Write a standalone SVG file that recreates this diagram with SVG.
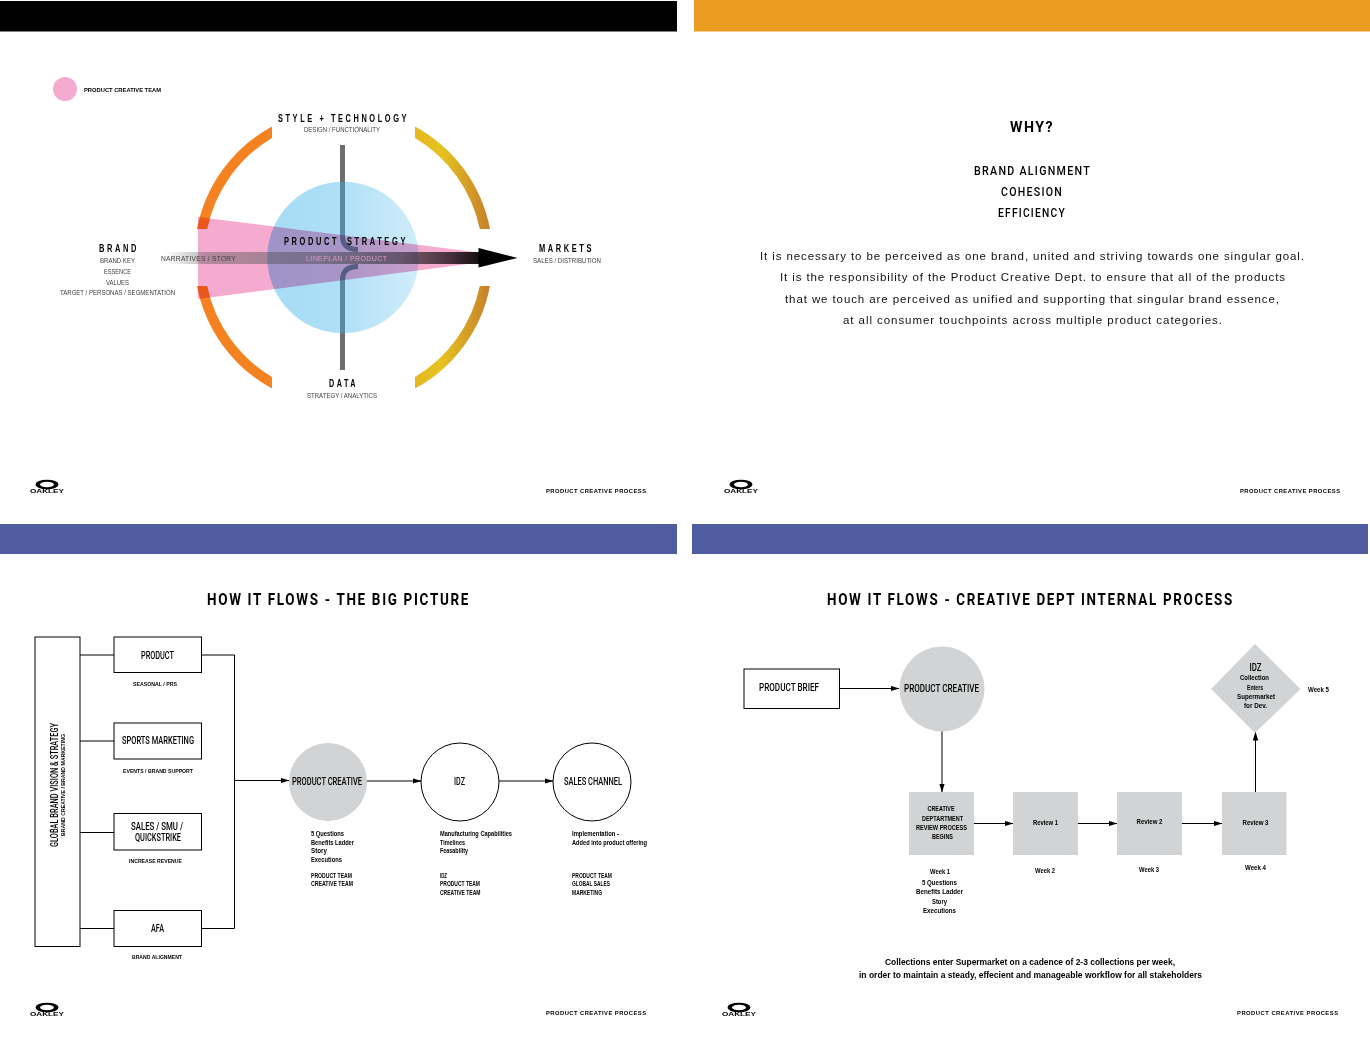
<svg xmlns="http://www.w3.org/2000/svg" width="1370" height="1047" viewBox="0 0 1370 1047">
<style>
text{font-family:"Liberation Sans",Arial,sans-serif;fill:#000}
.hd{font-weight:700;font-size:10px;letter-spacing:3.5px}
.sub{font-size:7px;fill:#414042}
.tiny{font-weight:700;font-size:5.8px}
.small{font-size:6.6px;font-weight:700}
.box{font-family:Roboto,"Liberation Sans",sans-serif;font-weight:500;font-size:10px}
.body{font-size:11.500px;fill:#111}
.caps{font-family:Roboto,"Liberation Sans",sans-serif;font-weight:500;font-size:12.500px;letter-spacing:1.500px}
.title{font-family:Roboto,"Liberation Sans",sans-serif;font-weight:700;font-size:16px;letter-spacing:2px}
.foot{font-weight:700;font-size:5.8px}
.m{text-anchor:middle}
.bx{fill:#fff;stroke:#000;stroke-width:1}
.gr{fill:#d1d3d4}
.ln{fill:none;stroke:#000;stroke-width:1}
.vbar{fill:none;stroke:#6d6e71;stroke-width:5}
.logo{font-weight:700;font-size:5.4px}
</style>
<defs>
<linearGradient id="blue" gradientUnits="userSpaceOnUse" x1="267" y1="0" x2="419" y2="0"><stop offset="0" stop-color="#3eb2e9" stop-opacity=".46"/><stop offset=".45" stop-color="#3eb2e9" stop-opacity=".42"/><stop offset="1" stop-color="#3eb2e9" stop-opacity=".24"/></linearGradient>
<linearGradient id="band" gradientUnits="userSpaceOnUse" x1="165" y1="0" x2="480" y2="0"><stop offset="0" stop-color="#58595b" stop-opacity="0"/><stop offset=".13" stop-color="#58595b" stop-opacity=".42"/><stop offset=".5" stop-color="#4a4a50" stop-opacity=".5"/><stop offset=".75" stop-color="#1a1a20" stop-opacity=".55"/><stop offset=".905" stop-color="#0a0508" stop-opacity=".74"/><stop offset="1" stop-color="#000" stop-opacity=".92"/></linearGradient>
<linearGradient id="gold" gradientUnits="userSpaceOnUse" x1="415" y1="0" x2="490" y2="0"><stop offset="0" stop-color="#e5b823"/><stop offset=".35" stop-color="#e5c31f"/><stop offset="1" stop-color="#c67f2b"/></linearGradient>
<marker id="ah" markerWidth="9" markerHeight="6" refX="8.500" refY="3" orient="auto" markerUnits="userSpaceOnUse"><path d="M0,0.300L9,3L0,5.700Z" fill="#000"/></marker>
<path id="oak" fill-rule="evenodd" fill="#000" d="M-11.500,0A11.500,4.800 0 1 1 11.500,0A11.500,4.800 0 1 1 -11.500,0ZM-7,0A7,2.800 0 1 0 7,0A7,2.800 0 1 0 -7,0Z"/>
</defs>
<rect x="0" y="1" width="677" height="30.500" fill="#000"/>
<rect x="694" y="0" width="676" height="31.500" fill="#eb9c23"/>
<rect x="0" y="524" width="677" height="30" fill="#4f5ca0"/>
<rect x="692" y="524" width="676" height="30" fill="#4f5ca0"/>

<circle cx="65" cy="89" r="12" fill="#f5abcf"/>
<text class="tiny" x="84" y="92" textLength="77" lengthAdjust="spacingAndGlyphs">PRODUCT CREATIVE TEAM</text>
<path d="M272,126.400A148.700,148.700 0 0 0 197,229L207.200,229A138.700,138.700 0 0 1 272,137.900Z" fill="#f58220"/>
<path d="M272,388.600A148.700,148.700 0 0 1 197,286L207.200,286A138.700,138.700 0 0 0 272,377.100Z" fill="#f58220"/>
<path d="M415,126.400A148.700,148.700 0 0 1 490,229L479.800,229A138.700,138.700 0 0 0 415,137.900Z" fill="url(#gold)"/>
<path d="M415,388.600A148.700,148.700 0 0 0 490,286L479.800,286A138.700,138.700 0 0 1 415,377.100Z" fill="url(#gold)"/>
<path class="vbar" d="M342.500,145V236Q342.500,249.500 358,249.500"/>
<path class="vbar" d="M342.500,370V280Q342.500,266.500 358,266.500"/>
<circle cx="343" cy="257.500" r="75.700" fill="url(#blue)"/>
<path d="M198,217L518,257.500L198,299Z" fill="#f5abcf" style="mix-blend-mode:multiply"/>
<rect x="165" y="252" width="315" height="12" fill="url(#band)"/>
<path d="M478.500,248L517.500,258L478.500,267.500Z" fill="#000"/>

<text class="hd m" x="343.500" y="122" textLength="131" lengthAdjust="spacingAndGlyphs">STYLE + TECHNOLOGY</text>
<text class="sub m" x="342" y="132" textLength="76" lengthAdjust="spacingAndGlyphs">DESIGN / FUNCTIONALITY</text>
<text class="hd m" x="119" y="252" textLength="40" lengthAdjust="spacingAndGlyphs">BRAND</text>
<text class="sub m" x="117.500" y="263" textLength="35" lengthAdjust="spacingAndGlyphs">BRAND KEY</text>
<text class="sub m" x="117.500" y="274" textLength="27" lengthAdjust="spacingAndGlyphs">ESSENCE</text>
<text class="sub m" x="117.500" y="284.500" textLength="23" lengthAdjust="spacingAndGlyphs">VALUES</text>
<text class="sub m" x="117.500" y="295" textLength="115" lengthAdjust="spacingAndGlyphs">TARGET / PERSONAS / SEGMENTATION</text>
<text class="sub" x="161" y="261" textLength="75" lengthAdjust="spacingAndGlyphs" style="font-size:7.500px;letter-spacing:.3px">NARRATIVES / STORY</text>
<text class="hd" x="284" y="245" textLength="124" lengthAdjust="spacingAndGlyphs" style="word-spacing:4px">PRODUCT STRATEGY</text>
<text class="sub" x="306" y="261" textLength="81" style="fill:#d99bc0">LINEPLAN / PRODUCT</text>
<text class="hd m" x="566.500" y="252" textLength="55" lengthAdjust="spacingAndGlyphs">MARKETS</text>
<text class="sub m" x="567" y="263" textLength="68" lengthAdjust="spacingAndGlyphs">SALES / DISTRIBUTION</text>
<text class="hd m" x="343.500" y="387" textLength="29" lengthAdjust="spacingAndGlyphs">DATA</text>
<text class="sub m" x="342" y="398" textLength="70" lengthAdjust="spacingAndGlyphs">STRATEGY / ANALYTICS</text>

<text class="caps m" x="1032" y="132" style="font-size:14.500px;font-weight:700" textLength="44" lengthAdjust="spacingAndGlyphs">WHY?</text>
<text class="caps m" x="1032.500" y="175" textLength="117" lengthAdjust="spacingAndGlyphs">BRAND ALIGNMENT</text>
<text class="caps m" x="1032" y="196" textLength="62" lengthAdjust="spacingAndGlyphs">COHESION</text>
<text class="caps m" x="1032" y="217" textLength="68" lengthAdjust="spacingAndGlyphs">EFFICIENCY</text>
<text class="body m" x="1032" y="260" textLength="544">It is necessary to be perceived as one brand, united and striving towards one singular goal.</text>
<text class="body m" x="1032.500" y="281" textLength="505">It is the responsibility of the Product Creative Dept. to ensure that all of the products</text>
<text class="body m" x="1032" y="303" textLength="494">that we touch are perceived as unified and supporting that singular brand essence,</text>
<text class="body m" x="1032.500" y="324" textLength="379">at all consumer touchpoints across multiple product categories.</text>

<text class="title m" x="338.500" y="605" textLength="263" lengthAdjust="spacingAndGlyphs">HOW IT FLOWS - THE BIG PICTURE</text>
<text class="title m" x="1030.500" y="605" textLength="407" lengthAdjust="spacingAndGlyphs">HOW IT FLOWS - CREATIVE DEPT INTERNAL PROCESS</text>

<g id="connectors">
<path class="ln" d="M80,655H114M80,741H114M80,832.500H114M80,928.500H114"/>
<path class="ln" d="M201,655H234.500V928.500H201"/>
<path class="ln" d="M234.500,780.500H289" marker-end="url(#ah)"/>
<path class="ln" d="M367,781H421" marker-end="url(#ah)"/>
<path class="ln" d="M499,781H553" marker-end="url(#ah)"/>
<path class="ln" d="M839,688.500H899" marker-end="url(#ah)"/>
<path class="ln" d="M942,731V792" marker-end="url(#ah)"/>
<path class="ln" d="M974,823.500H1013" marker-end="url(#ah)"/>
<path class="ln" d="M1078,823.500H1117" marker-end="url(#ah)"/>
<path class="ln" d="M1182,823.500H1222" marker-end="url(#ah)"/>
<path class="ln" d="M1255.500,792V732" marker-end="url(#ah)"/>
</g>

<g id="global">
<rect class="bx" x="35" y="637" width="45" height="309.500"/>
<text transform="translate(58,785) rotate(-90)" class="box m" textLength="124" lengthAdjust="spacingAndGlyphs">GLOBAL BRAND VISION &amp; STRATEGY</text>
<text transform="translate(65,785) rotate(-90)" class="tiny m" textLength="102" lengthAdjust="spacingAndGlyphs">BRAND CREATIVE / BRAND MARKETING</text>
</g>
<g id="product">
<rect class="bx" x="114" y="637" width="87.500" height="35.500"/>
<text class="box m" x="157.500" y="659" textLength="33" lengthAdjust="spacingAndGlyphs">PRODUCT</text>
<text class="tiny m" x="155" y="686" textLength="44" lengthAdjust="spacingAndGlyphs">SEASONAL / PRS</text>
</g>
<g id="sports">
<rect class="bx" x="114" y="723" width="87.500" height="36"/>
<text class="box m" x="158" y="744" textLength="72" lengthAdjust="spacingAndGlyphs">SPORTS MARKETING</text>
<text class="tiny m" x="158" y="773" textLength="70" lengthAdjust="spacingAndGlyphs">EVENTS / BRAND SUPPORT</text>
</g>
<g id="sales">
<rect class="bx" x="114" y="813.500" width="87.500" height="36.500"/>
<text class="box m" x="157" y="830" textLength="52" lengthAdjust="spacingAndGlyphs">SALES / SMU /</text>
<text class="box m" x="158" y="841" textLength="46" lengthAdjust="spacingAndGlyphs">QUICKSTRIKE</text>
<text class="tiny m" x="155.500" y="863" textLength="53" lengthAdjust="spacingAndGlyphs">INCREASE REVENUE</text>
</g>
<g id="afa">
<rect class="bx" x="114" y="910.500" width="87.500" height="36"/>
<text class="box m" x="157.500" y="932" textLength="13" lengthAdjust="spacingAndGlyphs">AFA</text>
<text class="tiny m" x="157" y="959" textLength="50" lengthAdjust="spacingAndGlyphs">BRAND ALIGNMENT</text>
</g>
<g id="pc1">
<circle class="gr" cx="328" cy="782" r="39"/>
<text class="box m" x="327" y="785" textLength="70" lengthAdjust="spacingAndGlyphs">PRODUCT CREATIVE</text>
<text class="small" x="311" y="836" textLength="33" lengthAdjust="spacingAndGlyphs">5 Questions</text>
<text class="small" x="311" y="844.500" textLength="43" lengthAdjust="spacingAndGlyphs">Benefits Ladder</text>
<text class="small" x="311" y="853" textLength="16" lengthAdjust="spacingAndGlyphs">Story</text>
<text class="small" x="311" y="861.500" textLength="31" lengthAdjust="spacingAndGlyphs">Executions</text>
<text class="small" x="311" y="878" textLength="41" lengthAdjust="spacingAndGlyphs">PRODUCT TEAM</text>
<text class="small" x="311" y="886" textLength="42" lengthAdjust="spacingAndGlyphs">CREATIVE TEAM</text>
</g>
<g id="idz1">
<circle class="bx" cx="460" cy="782" r="39"/>
<text class="box m" x="459.500" y="785" textLength="11" lengthAdjust="spacingAndGlyphs">IDZ</text>
<text class="small" x="440" y="836" textLength="72" lengthAdjust="spacingAndGlyphs">Manufacturing Capabilities</text>
<text class="small" x="440" y="844.500" textLength="25" lengthAdjust="spacingAndGlyphs">Timelines</text>
<text class="small" x="440" y="853" textLength="28" lengthAdjust="spacingAndGlyphs">Feasability</text>
<text class="small" x="440" y="878" textLength="7" lengthAdjust="spacingAndGlyphs">IDZ</text>
<text class="small" x="440" y="886" textLength="40" lengthAdjust="spacingAndGlyphs">PRODUCT TEAM</text>
<text class="small" x="440" y="895" textLength="40.500" lengthAdjust="spacingAndGlyphs">CREATIVE TEAM</text>
</g>
<g id="channel">
<circle class="bx" cx="592" cy="782" r="39"/>
<text class="box m" x="593" y="785" textLength="58" lengthAdjust="spacingAndGlyphs">SALES CHANNEL</text>
<text class="small" x="572" y="836" textLength="47" lengthAdjust="spacingAndGlyphs">Implementation -</text>
<text class="small" x="572" y="844.500" textLength="75" lengthAdjust="spacingAndGlyphs">Added into product offering</text>
<text class="small" x="572" y="878" textLength="40" lengthAdjust="spacingAndGlyphs">PRODUCT TEAM</text>
<text class="small" x="572" y="886" textLength="38" lengthAdjust="spacingAndGlyphs">GLOBAL SALES</text>
<text class="small" x="572" y="895" textLength="30" lengthAdjust="spacingAndGlyphs">MARKETING</text>
</g>

<g id="brief">
<rect class="bx" x="744" y="669" width="95.500" height="39.500"/>
<text class="box m" x="789" y="691" style="font-size:10.500px" textLength="60" lengthAdjust="spacingAndGlyphs">PRODUCT BRIEF</text>
</g>
<g id="pc2">
<circle class="gr" cx="942" cy="689" r="42.500"/>
<text class="box m" x="941.500" y="692" style="font-size:10.500px" textLength="75" lengthAdjust="spacingAndGlyphs">PRODUCT CREATIVE</text>
</g>
<g id="begin">
<rect class="gr" x="909" y="792" width="65" height="63"/>
<text class="small m" x="941" y="811" textLength="27" lengthAdjust="spacingAndGlyphs">CREATIVE</text>
<text class="small m" x="942.500" y="820.500" textLength="41" lengthAdjust="spacingAndGlyphs">DEPTARTMENT</text>
<text class="small m" x="941.500" y="829.500" textLength="51" lengthAdjust="spacingAndGlyphs">REVIEW PROCESS</text>
<text class="small m" x="942.500" y="838.500" textLength="21" lengthAdjust="spacingAndGlyphs">BEGINS</text>
<text class="small m" x="940" y="874" textLength="20" lengthAdjust="spacingAndGlyphs">Week 1</text>
<text class="small m" x="939.500" y="885" textLength="35" lengthAdjust="spacingAndGlyphs">5 Questions</text>
<text class="small m" x="939.500" y="894" textLength="47" lengthAdjust="spacingAndGlyphs">Benefits Ladder</text>
<text class="small m" x="939.500" y="903.500" textLength="15" lengthAdjust="spacingAndGlyphs">Story</text>
<text class="small m" x="939.500" y="913" textLength="33" lengthAdjust="spacingAndGlyphs">Executions</text>
</g>
<g id="review1">
<rect class="gr" x="1013" y="792" width="65" height="63"/>
<text class="small m" x="1045.500" y="825" textLength="25" lengthAdjust="spacingAndGlyphs">Review 1</text>
<text class="small m" x="1045" y="873" textLength="20" lengthAdjust="spacingAndGlyphs">Week 2</text>
</g>
<g id="review2">
<rect class="gr" x="1117" y="792" width="65" height="63"/>
<text class="small m" x="1149.500" y="824" textLength="26" lengthAdjust="spacingAndGlyphs">Review 2</text>
<text class="small m" x="1149" y="872" textLength="20" lengthAdjust="spacingAndGlyphs">Week 3</text>
</g>
<g id="review3">
<rect class="gr" x="1222" y="792" width="64.500" height="63"/>
<text class="small m" x="1255.500" y="825" textLength="26" lengthAdjust="spacingAndGlyphs">Review 3</text>
<text class="small m" x="1255.500" y="870" textLength="21" lengthAdjust="spacingAndGlyphs">Week 4</text>
</g>
<g id="idz2">
<path class="gr" d="M1255,644L1300.500,689L1255,733L1211,689Z"/>
<text class="box m" x="1255.500" y="671" style="font-size:10.500px" textLength="12" lengthAdjust="spacingAndGlyphs">IDZ</text>
<text class="small m" x="1254.500" y="680" textLength="29" lengthAdjust="spacingAndGlyphs">Collection</text>
<text class="small m" x="1255" y="690" textLength="16" lengthAdjust="spacingAndGlyphs">Enters</text>
<text class="small m" x="1256" y="699" textLength="38" lengthAdjust="spacingAndGlyphs">Supermarket</text>
<text class="small m" x="1255.500" y="708" textLength="23" lengthAdjust="spacingAndGlyphs">for Dev.</text>
<text class="small" x="1308" y="692" textLength="21" lengthAdjust="spacingAndGlyphs">Week 5</text>
</g>
<text class="m" x="1030" y="965" style="font-size:8.500px;font-weight:700" textLength="290" lengthAdjust="spacingAndGlyphs">Collections enter Supermarket on a cadence of 2-3 collections per week,</text>
<text class="m" x="1030.500" y="978" style="font-size:8.500px;font-weight:700" textLength="343" lengthAdjust="spacingAndGlyphs">in order to maintain a steady, effecient and manageable workflow for all stakeholders</text>

<use href="#oak" x="47" y="484.500"/>
<use href="#oak" x="741" y="484.500"/>
<use href="#oak" x="47" y="1007.500"/>
<use href="#oak" x="739" y="1007.500"/>
<text class="logo m" x="47" y="493" textLength="34" lengthAdjust="spacingAndGlyphs" style="font-size:6px">OAKLEY</text>
<text class="logo m" x="741" y="493" textLength="34" lengthAdjust="spacingAndGlyphs" style="font-size:6px">OAKLEY</text>
<text class="logo m" x="47" y="1016" textLength="34" lengthAdjust="spacingAndGlyphs" style="font-size:6px">OAKLEY</text>
<text class="logo m" x="739" y="1016" textLength="34" lengthAdjust="spacingAndGlyphs" style="font-size:6px">OAKLEY</text>
<text class="foot" x="546" y="493" textLength="100">PRODUCT CREATIVE PROCESS</text>
<text class="foot" x="1240" y="493" textLength="100">PRODUCT CREATIVE PROCESS</text>
<text class="foot" x="546" y="1015" textLength="100">PRODUCT CREATIVE PROCESS</text>
<text class="foot" x="1237" y="1015" textLength="101">PRODUCT CREATIVE PROCESS</text>
</svg>
